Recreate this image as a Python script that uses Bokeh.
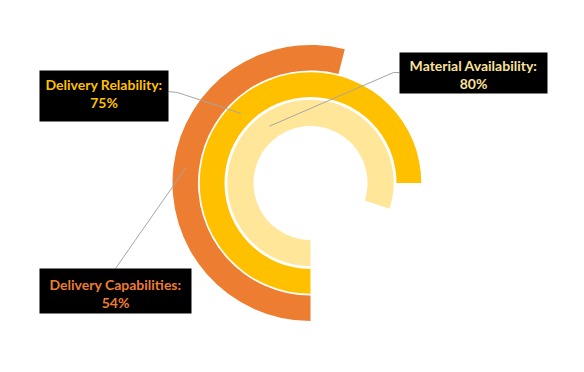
import math
from bokeh.plotting import figure
from bokeh.models import Range1d
from bokeh.core.properties import value
from bokeh.embed import file_html
from bokeh.resources import INLINE

# ---- data ----
categories = ["Delivery Capabilities", "Delivery Relability", "Material Availability"]
label_titles = ["Delivery Capabilities:", "Delivery Relability:", "Material Availability:"]
values = [54, 75, 80]          # percent
ring_colors = ["#ED7D31", "#FFC000", "#FFE699"]
text_colors = ["#ED7D31", "#FFC000", "#FBE29A"]

W, H = 568, 356
# data coords: x = screen x, y = H - screen y
def sy(y):
    return H - y

p = figure(width=W, height=H, output_backend="svg", toolbar_location=None,
           x_range=Range1d(0, W), y_range=Range1d(0, H),
           min_border=0, outline_line_color=None, background_fill_color="white")
p.axis.visible = False
p.grid.visible = False

cx, cy = 310, sy(182.5)
radii = [(112.5, 138.0), (86.0, 110.8), (57.0, 83.2)]

start = -math.pi / 2
for i, v in enumerate(values):
    sweep = v / 100 * 2 * math.pi
    ri, ro = radii[i]
    p.annular_wedge(x=[cx], y=[cy], inner_radius=ri, outer_radius=ro,
                    start_angle=start - sweep, end_angle=start, direction="anticlock",
                    fill_color=ring_colors[i], line_color=None)

# label boxes (screen px): left, right, top, bottom
boxes = [(39, 191, 268, 313), (39, 168, 70, 121), (399, 547, 52, 93)]
text_tops = [284, 84, 65]
# leader line start points near the boxes
elbows = [[(115, 268)], [(168, 91), (177, 92)], [(399, 72), (393, 72)]]

for i, v in enumerate(values):
    sweep = v / 100 * 2 * math.pi
    mid = start - sweep / 2
    ri, ro = radii[i]
    rm = (ri + ro) / 2
    ax = cx + rm * math.cos(mid)
    ay = cy + rm * math.sin(mid)
    xs = [e[0] for e in elbows[i]] + [ax]
    ys = [sy(e[1]) for e in elbows[i]] + [ay]
    p.line(xs, ys, line_color="#A6A6A6", line_width=1)

for i, v in enumerate(values):
    l, r, t, b = boxes[i]
    p.quad(left=[l], right=[r], top=[sy(t)], bottom=[sy(b)],
           fill_color="black", line_color=None)
    xc = (l + r) / 2
    y1 = text_tops[i]
    p.text(x=[xc], y=[sy(y1)], text=[label_titles[i]],
           text_font=value("Lato"), text_font_style="bold", text_font_size="14px",
           text_color=text_colors[i], text_align="center", text_baseline="middle")
    p.text(x=[xc], y=[sy(y1 + 18)], text=[f"{v}%"],
           text_font=value("Lato"), text_font_style="bold", text_font_size="14px",
           text_color=text_colors[i], text_align="center", text_baseline="middle")

open("out.html", "w").write(file_html(p, INLINE))
